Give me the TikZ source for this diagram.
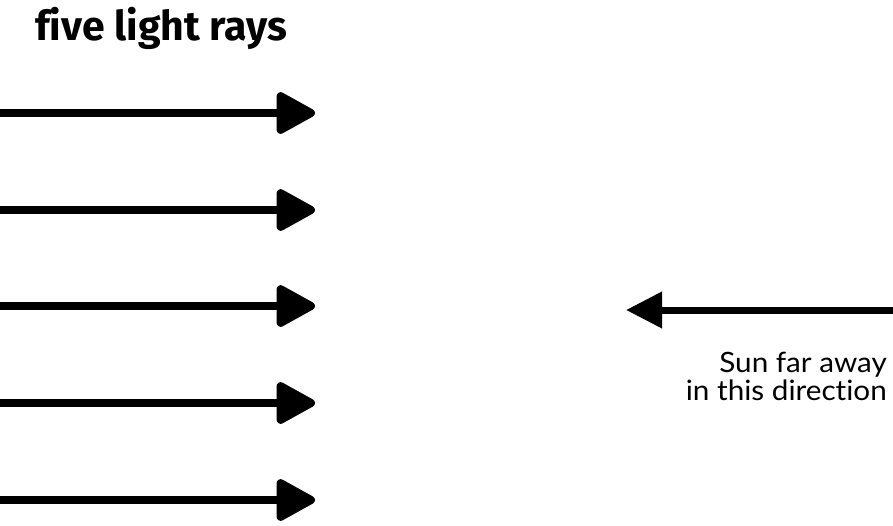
\documentclass[tikz,border=0pt]{standalone}
\usepackage{fontspec}
\setmainfont[Ligatures=NoCommon, FakeStretch=1.06]{Lato}
\newfontfamily\rayfont[Ligatures=NoCommon]{Fira Sans}
\usetikzlibrary{arrows.meta,positioning}

\begin{document}
\begin{tikzpicture}[x=1pt, y=-1pt,
    ray/.style={line width=8pt, -{Triangle[length=43pt,width=45pt,round]}},
    sunray/.style={line width=7pt, -{Triangle[length=36pt,width=35pt]}},
    title/.style={font=\rayfont\bfseries\fontsize{41}{41}\selectfont, inner sep=0pt},
    suntext/.style={font=\fontsize{28}{28}\selectfont, align=right, inner sep=0pt}]

\useasboundingbox (0,0) rectangle (893,525);

% ============================
\node[title, anchor=base west] (caption) at (35,40) {five light rays};

% ============================
\coordinate (ray1) at (0,113);
\coordinate (tip1) at (315,113);
\draw[ray] (ray1) -- (tip1);

\coordinate (ray2) at (0,210);
\coordinate (tip2) at (315,210);
\draw[ray] (ray2) -- (tip2);

\coordinate (ray3) at (0,306);
\coordinate (tip3) at (315,306);
\draw[ray] (ray3) -- (tip3);

\coordinate (ray4) at (0,403);
\coordinate (tip4) at (315,403);
\draw[ray] (ray4) -- (tip4);

\coordinate (ray5) at (0,500);
\coordinate (tip5) at (315,500);
\draw[ray] (ray5) -- (tip5);

% ============================
\coordinate (sunend) at (893,310);
\coordinate (suntip) at (626,310);
\draw[sunray] (sunend) -- (suntip);

\node[suntext, anchor=north east] (sun) at (887,352) {Sun far away\\in this direction};

\end{tikzpicture}
\end{document}
